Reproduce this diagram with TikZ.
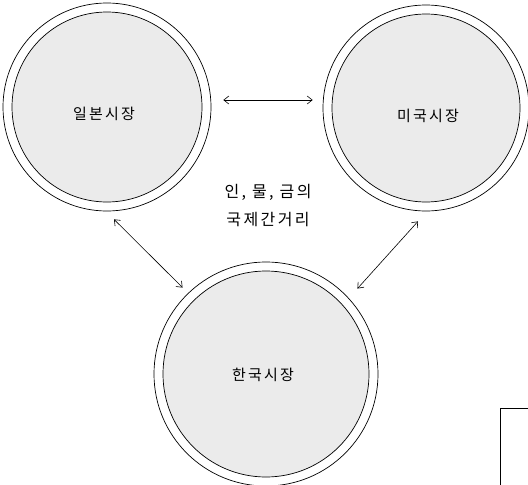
\documentclass[tikz,border=0pt]{standalone}
\usepackage{fontspec}
\setmainfont{Noto Sans CJK KR}
\newfontfamily\kfont[LetterSpace=15]{Noto Sans CJK KR}
\usetikzlibrary{arrows.meta}
\begin{document}
\begin{tikzpicture}[x=1pt,y=-1pt,
  outerring/.style={circle, draw=black, line width=0.7pt, inner sep=0pt, fill=white},
  innerdisc/.style={circle, draw=black, line width=0.7pt, inner sep=0pt, fill=black!8},
  mkttext/.style={inner sep=0pt, font=\kfont\fontsize{15}{15}\selectfont},
  link/.style={line width=0.6pt, {Straight Barb[length=5pt,width=8pt]}-{Straight Barb[length=5pt,width=8pt]}},
  lbl/.style={align=center, font=\kfont\fontsize{16}{28}\selectfont}]
\useasboundingbox (0,0) rectangle (528,485);
% Japan
\node[outerring, minimum size=208pt] (jpo) at (107,107) {};
\node[innerdisc, minimum size=190pt] (jp) at (jpo.center) {};
\node[mkttext] (jpt) at (104,114) {일본시장};
% USA
\node[outerring, minimum size=206pt] (uso) at (426,108) {};
\node[innerdisc, minimum size=188pt] (us) at (uso.center) {};
\node[mkttext] (ust) at (428,116) {미국시장};
% Korea
\node[outerring, minimum size=224pt] (kro) at (266,374) {};
\node[innerdisc, minimum size=206pt] (kr) at (kro.center) {};
\node[mkttext] (krt) at (263,375) {한국시장};
% label
\node[lbl] (mid) at (268,206) {인, 물, 금의\\국제간거리};
% arrows
\draw[link] ([shift={(12,-7)}]jpo.east) -- ([shift={(-10,-8)}]uso.west);
\draw[link] ([shift={(7,8)}]jpo.south) -- ([shift={(-4,-7)}]kro.north west);
\draw[link] ([shift={(-8,10)}]uso.south) -- ([shift={(12,-6)}]kro.north east);
% cropped box at bottom right
\draw[line width=0.8pt] (500,485) -- (500,408) -- (528,408);
\end{tikzpicture}
\end{document}
